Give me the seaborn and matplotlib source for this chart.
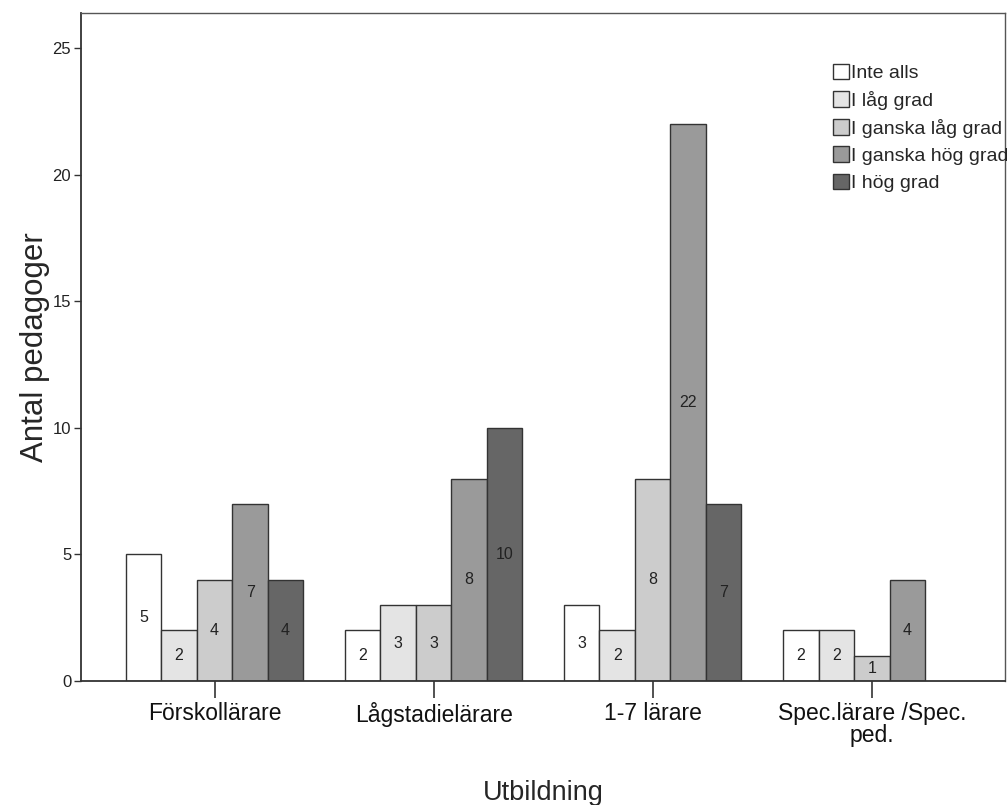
import numpy as np
import pandas as pd
import matplotlib
matplotlib.use("Agg")
import matplotlib.pyplot as plt
import seaborn as sns

categories = ["Förskollärare", "Lågstadielärare", "1-7 lärare", "Spec.lärare /Spec.\nped."]
levels = ["Inte alls", "I låg grad", "I ganska låg grad", "I ganska hög grad", "I hög grad"]
inte_alls = [5, 2, 3, 2]
lag_grad = [2, 3, 2, 2]
ganska_lag = [4, 3, 8, 1]
ganska_hog = [7, 8, 22, 4]
hog_grad = [4, 10, 7, np.nan]
colors = ["#ffffff", "#e4e4e4", "#cccccc", "#9a9a9a", "#666666"]

series = [inte_alls, lag_grad, ganska_lag, ganska_hog, hog_grad]
rows = []
for lev, vals in zip(levels, series):
    for c, v in zip(categories, vals):
        rows.append({"Utbildning": c, "Svar": lev, "Antal": v})
df = pd.DataFrame(rows)

sns.set_style("white")
plt.rcParams["font.family"] = ["Liberation Sans", "DejaVu Sans"]

fig = plt.figure(figsize=(10.07, 8.05), dpi=100)
ax = fig.add_axes([0.0804, 0.154, 0.918, 0.830])

sns.barplot(data=df, x="Utbildning", y="Antal", hue="Svar", order=categories,
            hue_order=levels, palette=colors, edgecolor="#333333", linewidth=1.0,
            width=0.81, ax=ax, errorbar=None, saturation=1)

for cont in ax.containers:
    labels = []
    for b in cont:
        h = b.get_height()
        labels.append("" if (h is None or np.isnan(h) or h == 0) else f"{int(h)}")
    ax.bar_label(cont, labels=labels, label_type="center", fontsize=11.5, color="#222222")

ax.set_ylim(0, 26.4)
ax.set_xlim(-0.61, 3.61)
ax.set_yticks([0, 5, 10, 15, 20, 25])
ax.tick_params(axis="y", labelsize=12, length=5, width=1, direction="out", left=True,
               colors="#333333", labelcolor="#222222", pad=2)
ax.tick_params(axis="x", labelsize=16.5, length=12, width=1.2, direction="out", bottom=True,
               colors="#333333", labelcolor="#111111", pad=3)
for lab in ax.get_xticklabels():
    lab.set_linespacing(0.95)

for s in ax.spines.values():
    s.set_visible(True)
    s.set_color("#555555")
    s.set_linewidth(1.0)
ax.spines["left"].set_linewidth(1.3)
ax.spines["bottom"].set_linewidth(1.3)
ax.spines["left"].set_color("#333333")
ax.spines["bottom"].set_color("#333333")

ax.set_ylabel("Antal pedagoger", fontsize=22.5, labelpad=2)
ax.set_xlabel("Utbildning", fontsize=19.5, labelpad=24)

handles, labs = ax.get_legend_handles_labels()
leg = ax.legend(handles, labs, loc="upper left", bbox_to_anchor=(0.827, 0.921),
                bbox_transform=fig.transFigure, frameon=False, fontsize=14,
                handlelength=0.85, handleheight=0.85, handletextpad=0.1,
                labelspacing=0.45, borderpad=0, borderaxespad=0)

fig.savefig("out.png", dpi=100)
